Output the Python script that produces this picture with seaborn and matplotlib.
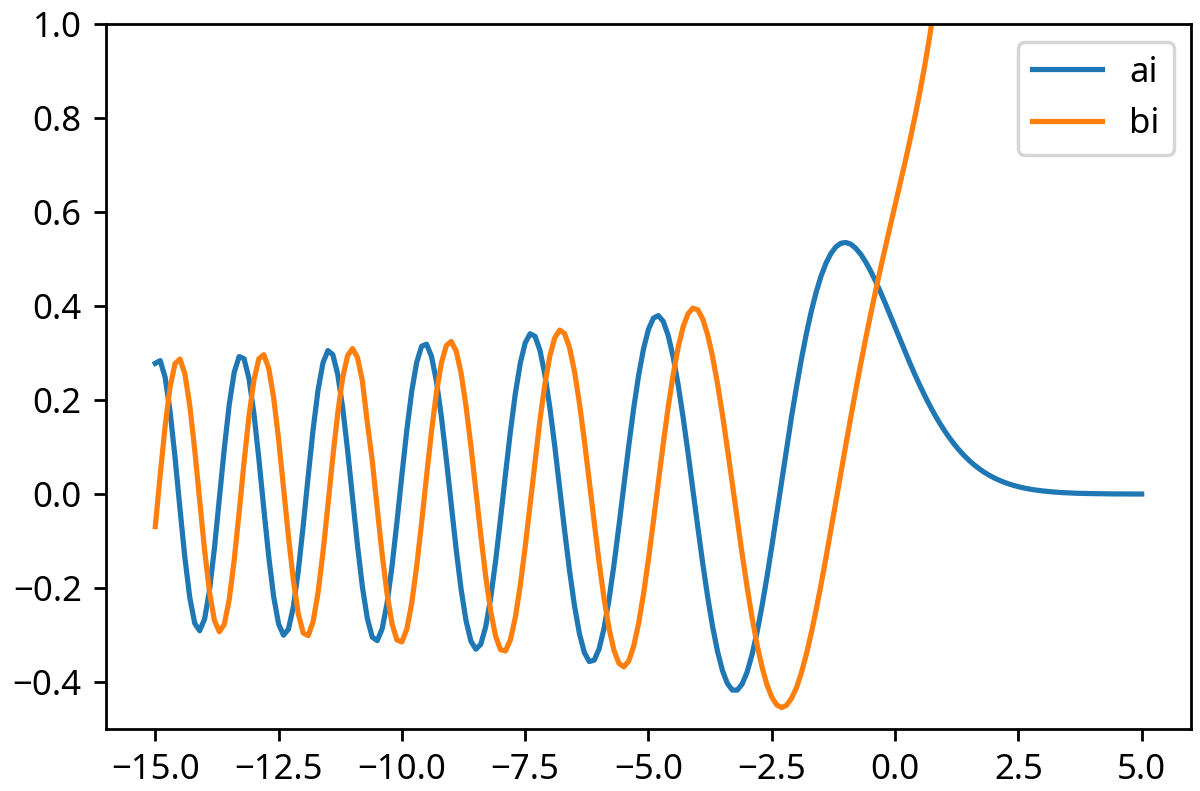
import numpy as np
import pandas as pd
import matplotlib
matplotlib.use("Agg")
import matplotlib.pyplot as plt
import seaborn as sns

plt.rcParams['font.family'] = ['Noto Sans', 'DejaVu Sans']

# x grid of the curves (step 0.1)
x_ai = np.round(np.linspace(-15.0, 5.0, 201), 1)
x_bi = np.round(np.linspace(-15.0, 1.0, 161), 1)

# values, x = -15.0 ... 5.0
ai = [
    0.2782, 0.2842, 0.2484, 0.1762, 0.0785, -0.0306, -0.1353, -0.2208, -0.2751, -0.2908,
    -0.2660, -0.2043, -0.1146, -0.0092, 0.0974, 0.1910, 0.2591, 0.2928, 0.2881, 0.2457,
    0.1715, 0.0752, -0.0307, -0.1327, -0.2181, -0.2763, -0.3003, -0.2875, -0.2396, -0.1629,
    -0.0666, 0.0377, 0.1375, 0.2212, 0.2794, 0.3054, 0.2967, 0.2544, 0.1837, 0.0926,
    -0.0088, -0.1092, -0.1978, -0.2652, -0.3046, -0.3119, -0.2868, -0.2321, -0.1537, -0.0597,
    0.0402, 0.1362, 0.2189, 0.2802, 0.3147, 0.3191, 0.2935, 0.2405, 0.1653, 0.0750,
    -0.0221, -0.1173, -0.2021, -0.2692, -0.3131, -0.3303, -0.3196, -0.2822, -0.2216, -0.1429,
    -0.0527, 0.0417, 0.1329, 0.2137, 0.2783, 0.3218, 0.3413, 0.3358, 0.3059, 0.2540,
    0.1843, 0.1017, 0.0121, -0.0783, -0.1635, -0.2380, -0.2971, -0.3374, -0.3564, -0.3535,
    -0.3291, -0.2851, -0.2243, -0.1506, -0.0683, 0.0178, 0.1030, 0.1826, 0.2526, 0.3095,
    0.3508, 0.3745, 0.3800, 0.3673, 0.3375, 0.2921, 0.2337, 0.1649, 0.0891, 0.0096,
    -0.0703, -0.1475, -0.2189, -0.2821, -0.3348, -0.3756, -0.4032, -0.4171, -0.4173, -0.4042,
    -0.3788, -0.3416, -0.2947, -0.2395, -0.1779, -0.1116, -0.0425, 0.0276, 0.0971, 0.1644,
    0.2274, 0.2868, 0.3408, 0.3886, 0.4299, 0.4643, 0.4917, 0.5123, 0.5262, 0.5338,
    0.5356, 0.5320, 0.5236, 0.5110, 0.4948, 0.4757, 0.4542, 0.4309, 0.4063, 0.3808,
    0.3550, 0.3292, 0.3037, 0.2788, 0.2547, 0.2317, 0.2098, 0.1892, 0.1698, 0.1519,
    0.1353, 0.1200, 0.1061, 0.0935, 0.0820, 0.0717, 0.0625, 0.0543, 0.0470, 0.0406,
    0.0349, 0.0300, 0.0256, 0.0218, 0.0186, 0.0157, 0.0133, 0.0112, 0.0094, 0.0079,
    0.0066, 0.0055, 0.0046, 0.0038, 0.0031, 0.0026, 0.0021, 0.0017, 0.0014, 0.0012,
    0.0010, 0.0008, 0.0006, 0.0005, 0.0004, 0.0003, 0.0003, 0.0002, 0.0002, 0.0001,
    0.0001,
]

# x = -15.0 ... 1.0 (beyond that it leaves the top of the plot)
bi = [
    -0.0691, 0.0410, 0.1450, 0.2279, 0.2777, 0.2875, 0.2561, 0.1882, 0.0937, -0.0139,
    -0.1197, -0.2088, -0.2693, -0.2931, -0.2772, -0.2240, -0.1408, -0.0390, 0.0679, 0.1660,
    0.2426, 0.2880, 0.2967, 0.2678, 0.2052, 0.1170, 0.0144, -0.0901, -0.1836, -0.2549,
    -0.2957, -0.3014, -0.2716, -0.2100, -0.1241, -0.0239, 0.0790, 0.1730, 0.2477, 0.2949,
    0.3097, 0.2907, 0.2403, 0.1514, 0.0706, -0.0304, -0.1282, -0.2128, -0.2757, -0.3108,
    -0.3147, -0.2874, -0.2319, -0.1538, -0.0609, 0.0378, 0.1329, 0.2157, 0.2786, 0.3160,
    0.3249, 0.3048, 0.2578, 0.1873, 0.1024, 0.0078, -0.0875, -0.1755, -0.2490, -0.3023,
    -0.3313, -0.3339, -0.3103, -0.2627, -0.1949, -0.1125, -0.0216, 0.0709, 0.1582, 0.2343,
    0.2938, 0.3328, 0.3491, 0.3417, 0.3116, 0.2610, 0.1935, 0.1137, 0.0268, -0.0618,
    -0.1467, -0.2228, -0.2859, -0.3325, -0.3602, -0.3678, -0.3553, -0.3237, -0.2750, -0.2121,
    -0.1384, -0.0577, 0.0257, 0.1080, 0.1852, 0.2539, 0.3113, 0.3550, 0.3835, 0.3959,
    0.3922, 0.3728, 0.3390, 0.2922, 0.2347, 0.1688, 0.0969, 0.0218, -0.0541, -0.1283,
    -0.1983, -0.2628, -0.3194, -0.3672, -0.4050, -0.4323, -0.4487, -0.4544, -0.4495, -0.4347,
    -0.4123, -0.3805, -0.3414, -0.2962, -0.2460, -0.1918, -0.1347, -0.0758, -0.0158, 0.0443,
    0.1040, 0.1626, 0.2198, 0.2753, 0.3288, 0.3804, 0.4300, 0.4780, 0.5245, 0.5700,
    0.6149, 0.6599, 0.7055, 0.7525, 0.8018, 0.8543, 0.9111, 0.9733, 1.0424, 1.1199,
    1.2074,
]

df_ai = pd.DataFrame({'x': x_ai, 'y': ai})
df_bi = pd.DataFrame({'x': x_bi, 'y': bi})

fig = plt.figure(figsize=(4.8, 3.164), dpi=250)
ax = fig.add_axes([0.0883, 0.0784, 0.9042, 0.8909])

sns.lineplot(data=df_ai, x='x', y='y', ax=ax, color='tab:blue', label='ai')
sns.lineplot(data=df_bi, x='x', y='y', ax=ax, color='tab:orange', label='bi')

ax.set_xlim(-16, 6)
ax.set_ylim(-0.5, 1.0)
ax.set_xlabel('')
ax.set_ylabel('')
ax.legend(loc='upper right')

fig.savefig('out.png', dpi=250)
